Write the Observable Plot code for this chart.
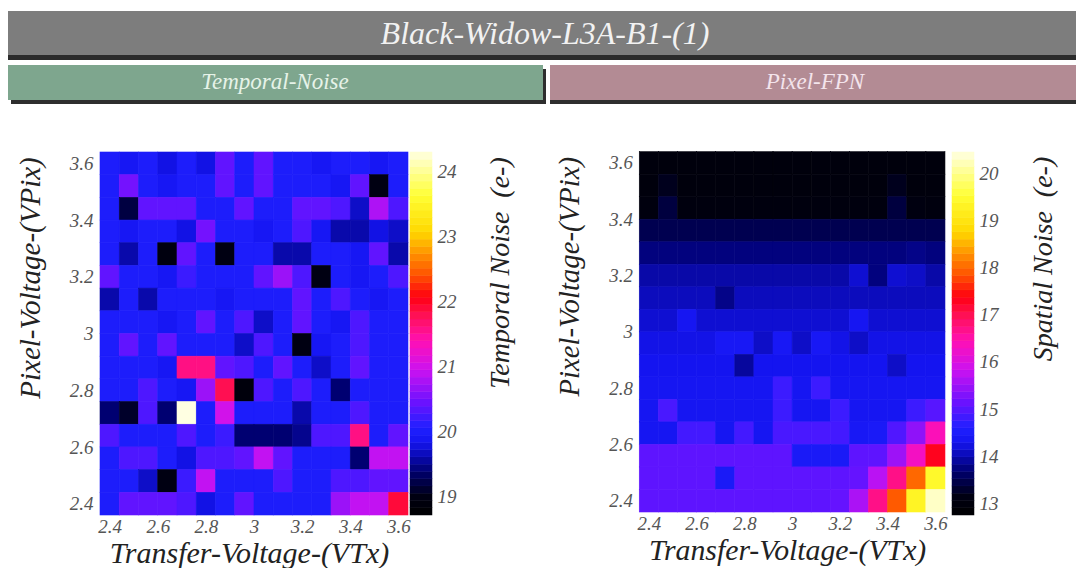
<!DOCTYPE html>
<html>
<head>
<meta charset="utf-8">
<script src="https://cdn.jsdelivr.net/npm/d3@7"></script>
<script src="https://cdn.jsdelivr.net/npm/@observablehq/plot@0.6"></script>
<style>
  html, body { margin: 0; padding: 0; background: #fff; }
  body { width: 1076px; height: 568px; position: relative; overflow: hidden; font-family: "Liberation Serif", "Times New Roman", serif; }
  .box { position: absolute; }
  .lbl { position: absolute; font-style: italic; white-space: nowrap; transform: translate(-50%, -50%); }
  .panel { position: absolute; }
  .panel svg { overflow: visible; }
</style>
</head>
<body>
<div class="box" style="left:8px;top:11px;width:1068px;height:44px;background:#7d7d7d;box-shadow:0 5px 0 #2b2b2b;"></div>
<div class="lbl" id="mainTitle" style="left:545px;top:33px;font-size:32px;color:#f2f2f2;"></div>
<div class="box" style="left:8px;top:65px;width:535px;height:35px;background:#7ea68e;box-shadow:3px 4px 0 #2e2e2e;"></div>
<div class="lbl" id="leftTitle" style="left:275px;top:82px;font-size:23px;color:#e6f3e8;"></div>
<div class="box" style="left:550px;top:65px;width:526px;height:35px;background:#b38b94;box-shadow:0 4px 0 #2e2e2e;"></div>
<div class="lbl" id="rightTitle" style="left:815px;top:82px;font-size:23px;color:#f4e4ec;"></div>

<div class="panel" id="p1" style="left:0px;top:110px;"></div>
<div class="panel" id="c1" style="left:410px;top:110px;"></div>
<div class="panel" id="p2" style="left:540px;top:110px;"></div>
<div class="panel" id="c2" style="left:952px;top:110px;"></div>

<script>
// ---------------- data ----------------
const chartTitle = "Black-Widow-L3A-B1-(1)";
const panelTitles = ["Temporal-Noise", "Pixel-FPN"];
const xLabel = "Transfer-Voltage-(VTx)";
const yLabel = "Pixel-Voltage-(VPix)";
const colorLabels = ["Temporal Noise  (e-)", "Spatial Noise  (e-)"];

// bin centres
const vtx = [2.40, 2.48, 2.56, 2.64, 2.72, 2.80, 2.88, 2.96, 3.04, 3.12, 3.20, 3.28, 3.36, 3.44, 3.52, 3.60];
// rows listed from top (3.60) to bottom (2.40)
const vpix = [3.60, 3.52, 3.44, 3.36, 3.28, 3.20, 3.12, 3.04, 2.96, 2.88, 2.80, 2.72, 2.64, 2.56, 2.48, 2.40];

const axisTicks = [2.4, 2.6, 2.8, 3, 3.2, 3.4, 3.6];
const temporalTicks = [19, 20, 21, 22, 23, 24];
const spatialTicks = [13, 14, 15, 16, 17, 18, 19, 20];
const temporalRange = [18.72, 24.3];
const spatialRange = [12.75, 20.45];

// Temporal noise (e-), rows top->bottom, columns left->right
const temporalNoise = [
  [20.0, 19.9, 20.0, 19.8, 20.0, 19.8, 20.4, 20.0, 20.4, 20.0, 20.0, 19.9, 20.0, 20.0, 19.9, 20.0],
  [20.0, 20.5, 20.0, 19.9, 20.0, 20.0, 20.4, 20.0, 20.4, 20.0, 20.0, 20.0, 19.9, 20.4, 19.0, 20.0],
  [20.0, 19.2, 20.4, 20.4, 20.4, 20.0, 20.0, 20.4, 20.0, 20.0, 20.4, 20.4, 20.3, 19.7, 20.8, 20.3],
  [20.0, 19.9, 20.0, 20.0, 19.8, 20.5, 20.0, 20.0, 19.9, 20.0, 20.3, 19.9, 19.6, 19.6, 19.8, 19.7],
  [20.0, 19.6, 20.0, 18.95, 20.4, 20.0, 19.0, 20.0, 20.0, 19.6, 19.6, 20.0, 20.0, 19.9, 20.4, 19.6],
  [20.4, 20.0, 20.0, 19.9, 20.2, 20.0, 20.0, 20.0, 20.4, 20.7, 20.3, 19.0, 20.0, 19.9, 20.0, 20.3],
  [19.6, 20.0, 19.6, 20.0, 20.0, 20.0, 19.9, 20.0, 20.0, 20.0, 20.4, 20.0, 20.3, 20.0, 19.9, 20.0],
  [20.0, 20.0, 20.0, 19.9, 20.0, 20.4, 20.0, 20.3, 19.7, 20.0, 20.4, 20.0, 19.9, 20.3, 20.0, 20.0],
  [20.0, 20.4, 20.0, 20.4, 20.0, 20.0, 20.0, 19.7, 20.3, 20.0, 19.0, 19.9, 20.0, 20.3, 20.0, 20.0],
  [20.0, 20.0, 20.0, 19.9, 21.6, 21.6, 20.4, 20.3, 20.0, 20.4, 20.0, 19.7, 20.0, 20.4, 20.0, 20.0],
  [20.0, 20.0, 20.3, 20.0, 19.9, 20.7, 21.8, 18.9, 20.3, 20.0, 20.3, 20.0, 19.4, 20.0, 20.0, 20.0],
  [19.4, 19.1, 20.3, 19.4, 24.3, 20.0, 21.0, 20.0, 20.0, 20.0, 19.6, 20.0, 20.0, 20.3, 20.0, 20.0],
  [20.3, 20.0, 20.0, 20.0, 20.3, 20.0, 20.2, 19.4, 19.4, 19.4, 19.5, 20.3, 20.3, 21.6, 20.0, 20.4],
  [20.0, 20.3, 20.3, 20.0, 19.8, 20.3, 20.3, 20.4, 20.9, 20.4, 20.0, 20.0, 20.0, 19.4, 20.9, 20.9],
  [20.0, 20.0, 19.7, 19.0, 20.2, 20.9, 20.0, 20.0, 20.0, 20.3, 20.0, 20.0, 20.3, 20.3, 20.4, 20.4],
  [20.0, 20.4, 20.4, 20.4, 20.3, 19.8, 20.0, 20.4, 20.0, 20.0, 20.0, 20.0, 20.7, 20.9, 20.9, 21.9]
];

// Spatial noise / pixel FPN (e-), rows top->bottom
const spatialNoise = [
  [13.0, 13.0, 13.0, 13.0, 13.0, 13.0, 13.0, 13.0, 13.0, 13.0, 13.0, 13.0, 13.0, 13.0, 13.0, 13.0],
  [13.0, 13.2, 13.0, 13.0, 13.0, 13.0, 13.0, 13.0, 13.0, 13.0, 13.0, 13.0, 13.0, 13.2, 13.0, 13.0],
  [13.05, 13.4, 13.05, 13.05, 13.05, 13.05, 13.05, 13.05, 13.05, 13.05, 13.05, 13.05, 13.05, 13.4, 13.1, 13.05],
  [13.5, 13.5, 13.5, 13.5, 13.5, 13.5, 13.5, 13.5, 13.5, 13.5, 13.5, 13.5, 13.5, 13.5, 13.5, 13.5],
  [13.75, 13.75, 13.75, 13.75, 13.75, 13.75, 13.75, 13.75, 13.75, 13.75, 13.75, 13.75, 13.75, 13.75, 13.8, 13.75],
  [13.95, 13.95, 13.95, 13.95, 13.95, 13.95, 13.95, 13.95, 13.95, 13.95, 13.95, 14.15, 13.75, 14.15, 14.1, 13.95],
  [14.05, 14.05, 14.05, 14.05, 13.8, 14.05, 14.05, 14.05, 14.05, 14.05, 14.05, 14.05, 14.05, 14.05, 14.05, 14.05],
  [14.15, 14.15, 14.35, 14.15, 14.15, 14.15, 14.15, 14.15, 14.15, 14.15, 14.15, 14.35, 14.15, 14.15, 14.15, 14.15],
  [14.25, 14.25, 14.25, 14.25, 14.4, 14.4, 14.1, 14.4, 14.1, 14.4, 14.25, 14.1, 14.25, 14.25, 14.25, 14.25],
  [14.3, 14.3, 14.3, 14.3, 14.3, 13.9, 14.3, 14.3, 14.3, 14.3, 14.3, 14.3, 14.3, 14.1, 14.3, 14.3],
  [14.35, 14.35, 14.35, 14.35, 14.35, 14.35, 14.35, 14.8, 14.35, 14.8, 14.35, 14.35, 14.35, 14.35, 14.35, 14.35],
  [14.35, 14.9, 14.35, 14.35, 14.35, 14.35, 14.35, 14.8, 14.35, 14.35, 14.8, 14.35, 14.35, 14.35, 14.8, 15.0],
  [14.35, 14.35, 14.85, 14.85, 14.35, 14.85, 14.35, 14.9, 14.9, 14.9, 14.85, 14.4, 14.45, 14.95, 15.4, 16.4],
  [15.05, 15.05, 15.05, 15.05, 15.05, 15.05, 15.05, 15.05, 14.45, 14.45, 14.45, 15.05, 15.05, 15.5, 16.3, 17.3],
  [15.05, 15.05, 15.05, 15.05, 14.45, 15.05, 15.05, 15.05, 15.05, 15.05, 15.05, 15.1, 15.7, 16.7, 18.0, 19.4],
  [15.05, 15.05, 15.05, 15.05, 15.05, 15.05, 15.05, 15.05, 15.05, 15.05, 15.1, 15.6, 16.7, 17.9, 19.3, 20.3]
];

// ROOT-like palette: black -> blue -> purple -> magenta -> red -> orange -> yellow -> white
const paletteStops  = [0.00, 0.05, 0.12, 0.20, 0.24, 0.31, 0.40, 0.48, 0.55, 0.60, 0.66, 0.72, 0.78, 0.88, 1.00];
const paletteColors = ["#000000", "#000012", "#00006e", "#1414ef", "#2020ff", "#6a12ff", "#cc12f0", "#ff10b4", "#ff1055", "#ff0012", "#ff5000", "#ff9200", "#ffd800", "#ffff34", "#ffffe2"];

// ---------------- drawing ----------------
const pal = d3.scaleLinear().domain(paletteStops).range(paletteColors).clamp(true);
const half = (vtx[1] - vtx[0]) / 2;
const fmt = d => String(+d.toFixed(2));
const serif = "Liberation Serif";

function cellsOf(values) {
  const out = [];
  values.forEach((row, j) => row.forEach((v, i) => out.push({x: vtx[i], y: vpix[j], v})));
  return out;
}

function heatmap(values, range, yLabelDy) {
  return Plot.plot({
    width: 540, height: 458,
    marginLeft: 100, marginRight: 132, marginTop: 42, marginBottom: 53,
    x: {domain: [d3.min(vtx) - half, d3.max(vtx) + half]},
    y: {domain: [d3.min(vpix) - half, d3.max(vpix) + half]},
    color: {type: "linear", domain: range, interpolate: pal, clamp: true},
    style: {fontFamily: serif, fontStyle: "italic", background: "transparent", overflow: "visible"},
    marks: [
      Plot.rect(cellsOf(values), {
        x1: d => d.x - half, x2: d => d.x + half,
        y1: d => d.y - half, y2: d => d.y + half,
        fill: "v", stroke: "v", strokeWidth: 0.6
      }),
      Plot.axisX(axisTicks, {tickSize: 0, tickPadding: 4, tickFormat: fmt, fontSize: 19, fill: "#555", label: null}),
      Plot.axisY(axisTicks, {tickSize: 0, tickPadding: 7, tickFormat: fmt, fontSize: 19, fill: "#555", label: null}),
      Plot.text([xLabel], {text: d => d, frameAnchor: "bottom", textAnchor: "middle", lineAnchor: "middle", dx: -5, dy: 38, fontSize: 30, fill: "#222"}),
      Plot.text([yLabel], {text: d => d, frameAnchor: "left", textAnchor: "middle", lineAnchor: "middle", rotate: -90, dx: -70, dy: yLabelDy, fontSize: 29, fill: "#222"})
    ]
  });
}

function colorbar(range, ticks, label, labelDx, labelDy) {
  const n = 50;
  const step = (range[1] - range[0]) / n;
  const bands = d3.range(n).map(k => ({lo: range[0] + k * step, hi: range[0] + (k + 1) * step, v: range[0] + (k + 0.5) * step}));
  return Plot.plot({
    width: 124, height: 458,
    marginLeft: 0, marginRight: 102, marginTop: 42, marginBottom: 53,
    y: {domain: range},
    color: {type: "linear", domain: range, interpolate: pal, clamp: true},
    style: {fontFamily: serif, fontStyle: "italic", background: "transparent", overflow: "visible"},
    marks: [
      Plot.rect(bands, {y1: "lo", y2: "hi", fill: "v", stroke: "v", strokeWidth: 0.5}),
      Plot.axisY(ticks, {anchor: "right", tickSize: 0, tickPadding: 5, tickFormat: fmt, fontSize: 19, fill: "#555", label: null}),
      Plot.text([label], {text: d => d, frameAnchor: "right", textAnchor: "middle", lineAnchor: "middle", rotate: -90, dx: labelDx, dy: labelDy, fontSize: 28, fill: "#222"})
    ]
  });
}

document.getElementById("mainTitle").textContent = chartTitle;
document.getElementById("leftTitle").textContent = panelTitles[0];
document.getElementById("rightTitle").textContent = panelTitles[1];

document.getElementById("p1").append(heatmap(temporalNoise, temporalRange, -56));
document.getElementById("c1").append(colorbar(temporalRange, temporalTicks, colorLabels[0], 68, -61));
document.getElementById("p2").append(heatmap(spatialNoise, spatialRange, -56));
document.getElementById("c2").append(colorbar(spatialRange, spatialTicks, colorLabels[1], 69, -75));
</script>
</body>
</html>
